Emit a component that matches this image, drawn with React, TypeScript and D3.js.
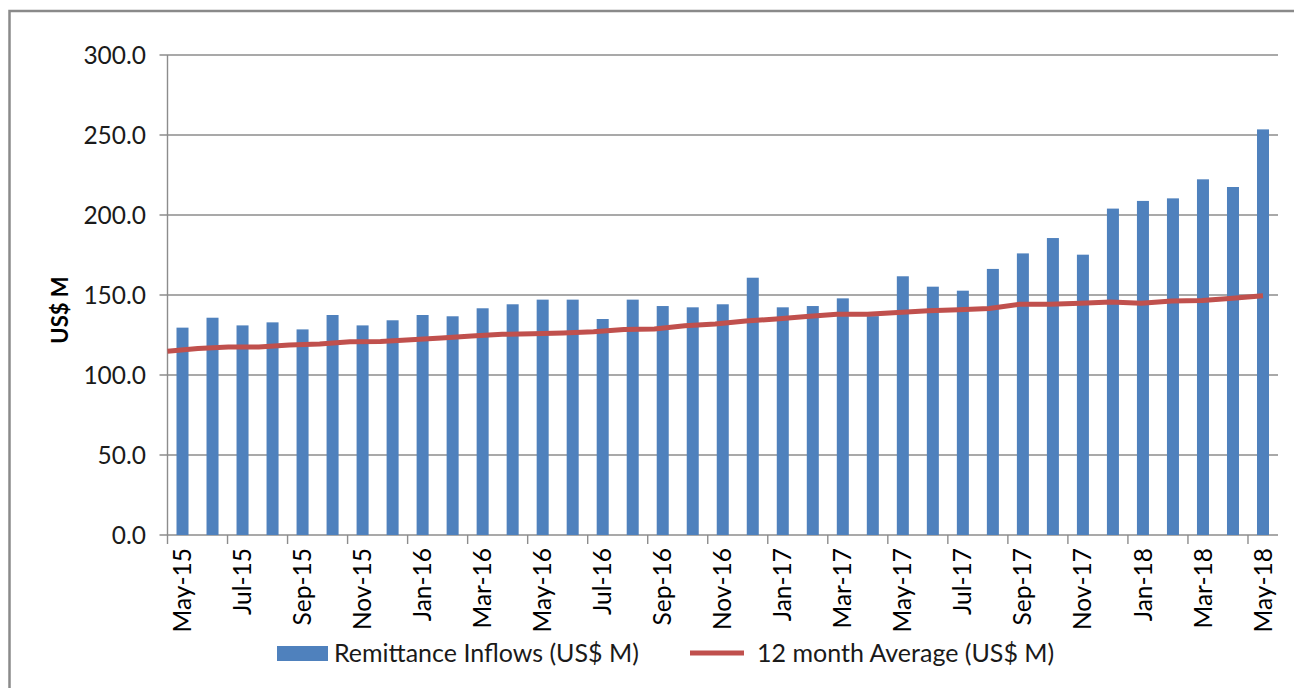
import React from 'react';
import * as d3 from 'd3';

const months = [
  'May-15', 'Jun-15', 'Jul-15', 'Aug-15', 'Sep-15', 'Oct-15', 'Nov-15', 'Dec-15',
  'Jan-16', 'Feb-16', 'Mar-16', 'Apr-16', 'May-16', 'Jun-16', 'Jul-16', 'Aug-16',
  'Sep-16', 'Oct-16', 'Nov-16', 'Dec-16', 'Jan-17', 'Feb-17', 'Mar-17', 'Apr-17',
  'May-17', 'Jun-17', 'Jul-17', 'Aug-17', 'Sep-17', 'Oct-17', 'Nov-17', 'Dec-17',
  'Jan-18', 'Feb-18', 'Mar-18', 'Apr-18', 'May-18',
];

// Remittance Inflows (US$ M)
const inflows = [
  129.6, 135.8, 131.0, 132.9, 128.5, 137.5, 131.0, 134.2,
  137.5, 136.7, 141.7, 144.2, 147.1, 147.1, 135.0, 147.1,
  143.1, 142.3, 144.2, 160.8, 142.3, 143.1, 147.9, 136.8,
  161.7, 155.2, 152.7, 166.3, 176.0, 185.6, 175.2, 204.0,
  208.8, 210.4, 222.3, 217.5, 253.5,
];

// 12 month Average (US$ M)
const average = [
  114.8, 116.5, 117.5, 117.5, 118.8, 119.4, 120.8, 121.0,
  122.1, 123.1, 124.4, 125.4, 125.8, 126.3, 127.1, 128.5,
  128.7, 130.8, 131.9, 133.8, 135.0, 136.5, 137.9, 137.9,
  139.0, 140.2, 140.8, 141.5, 144.2, 144.2, 144.8, 145.6,
  144.8, 146.3, 146.5, 147.9, 149.6,
];

const yTicks = [0, 50, 100, 150, 200, 250, 300];

const barColor = '#4F81BD';
const lineColor = '#C0504D';
const gridColor = '#8C8C8C';
const font = 'Lato, "Open Sans", sans-serif';

export default function App() {
  const left = 167.5;
  const right = 1278;
  const top = 55;
  const bottom = 535;

  const x = d3.scaleBand().domain(months).range([left, right]).paddingInner(0.6).paddingOuter(0.3);
  const step = x.step();
  const catStart = (i) => left + i * step;

  const xLine = d3.scalePoint().domain(months).range([left, catStart(months.length - 1) + step / 2]);
  const y = d3.scaleLinear().domain([0, 300]).range([bottom, top]);

  const line = d3.line()
    .x((d, i) => xLine(months[i]))
    .y((d) => y(d));

  const tickIdx = d3.range(0, months.length + 1, 2);

  return (
    <svg width={1294} height={688} style={{ position: 'absolute', left: 0, top: 0, background: '#fff' }}>
      {/* frame */}
      <path d="M9.5,688 V11 H1294" fill="none" stroke="#8a8a8a" strokeWidth={2.5} />

      {/* gridlines */}
      {yTicks.map((t) => (
        <line key={'g' + t} x1={left - 8} x2={right} y1={y(t)} y2={y(t)} stroke={gridColor} strokeWidth={1.4} />
      ))}

      {/* y axis */}
      <line x1={left} x2={left} y1={top} y2={bottom} stroke={gridColor} strokeWidth={1.4} />
      {yTicks.map((t) => (
        <text key={'yt' + t} x={146} y={y(t)} dy="0.35em" textAnchor="end"
          fontFamily={font} fontSize={24.5} fill="#1a1a1a">{d3.format('.1f')(t)}</text>
      ))}
      <text transform={`translate(60,${(top + bottom) / 2 + 15}) rotate(-90)`} textAnchor="middle" dy="0.35em"
        fontFamily={font} fontSize={22} fontWeight="bold" fill="#000">US$ M</text>

      {/* bars */}
      {inflows.map((v, i) => (
        <rect key={'b' + i} x={x(months[i])} y={y(v)} width={x.bandwidth()} height={y(0) - y(v)} fill={barColor} />
      ))}

      {/* average line */}
      <path d={line(average)} fill="none" stroke={lineColor} strokeWidth={5} strokeLinejoin="round" />

      {/* x axis */}
      {tickIdx.map((i) => (
        <line key={'xt' + i} x1={catStart(i)} x2={catStart(i)} y1={bottom} y2={bottom + 9} stroke={gridColor} strokeWidth={1.4} />
      ))}
      {months.map((m, i) => (i % 2 === 0 ? (
        <text key={'xl' + m}
          transform={`translate(${x(m) + x.bandwidth() / 2},${bottom + 13}) rotate(-90)`}
          textAnchor="end" dy="0.35em" fontFamily={font} fontSize={24.5} fill="#000">{m}</text>
      ) : null))}

      {/* legend */}
      <rect x={277} y={646} width={51} height={15} fill={barColor} />
      <text x={334} y={653} dy="0.35em" fontFamily={font} fontSize={25} fill="#1a1a1a">Remittance Inflows (US$ M)</text>
      <line x1={690} x2={744} y1={653} y2={653} stroke={lineColor} strokeWidth={5} />
      <text x={757} y={653} dy="0.35em" fontFamily={font} fontSize={25} fill="#1a1a1a">12 month Average (US$ M)</text>
    </svg>
  );
}
